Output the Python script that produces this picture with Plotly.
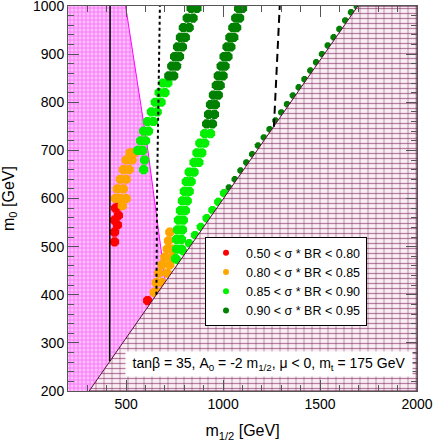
"""mSUGRA (m1/2, m0) plane with sigma*BR bands, tan(beta)=35, A0=-2 m1/2, mu<0."""

import plotly.graph_objects as go

FONT = "Liberation Sans, Arial, Helvetica, sans-serif"

# --- scan points, (m1/2, m0) in GeV, per sigma*BR class ---
red_x = [440, 440, 455, 440, 460, 445, 465, 611]
red_y = [510, 530, 545, 555, 565, 580, 585, 388]

orange_a_x = [480, 445, 470, 500, 455, 485, 470, 500, 485, 515, 500, 530, 520, 540]
orange_a_y = [585, 600, 600, 600, 620, 620, 640, 640, 660, 660, 680, 680, 695, 695]

orange_b_x = [645, 670, 655, 685, 668, 712, 685, 725, 700, 738, 712, 735, 718, 725]
orange_b_y = [405, 405, 425, 425, 445, 445, 462, 462, 478, 478, 495, 495, 512, 530]

green_a_x = [590, 595, 560, 585, 575, 600, 590, 615, 610, 640, 630, 660, 650, 680,
             670, 700, 690, 715]
green_a_y = [660, 680, 700, 700, 720, 720, 740, 740, 760, 760, 780, 780, 800, 800,
             820, 820, 840, 840]

green_b_x = [755, 760, 785, 760, 785, 765, 790, 770, 795, 780, 805, 790, 815, 800,
             825, 810, 835, 825, 850, 850, 875, 865, 890, 880, 905, 905, 935]
green_b_y = [475, 495, 495, 515, 515, 535, 535, 555, 555, 575, 575, 595, 595, 615,
             615, 635, 635, 655, 655, 675, 675, 695, 695, 715, 715, 735, 735]

green_c_x = [765, 795, 825, 855, 885, 915, 945, 975, 1005]
green_c_y = [472, 490, 507, 524, 541, 559, 576, 593, 611]

dgreen_a_x = [720, 745, 735, 760, 750, 775, 765, 790, 780, 805, 795, 825, 815, 845,
              835, 865]
dgreen_a_y = [855, 855, 875, 875, 895, 895, 915, 915, 935, 935, 955, 955, 975, 975,
              995, 995]

dgreen_b_x = [915, 945, 925, 955, 935, 960, 950, 975, 965, 985, 975, 1000, 990, 1010,
              1005, 1025, 1020, 1040, 1035, 1055, 1050, 1070, 1065, 1085, 1080, 1100]
dgreen_b_y = [755, 755, 775, 775, 795, 795, 815, 815, 835, 835, 855, 855, 875, 875,
              895, 895, 915, 915, 935, 935, 955, 955, 975, 975, 995, 995]

dgreen_c_x = [1030, 1060, 1090, 1120, 1150, 1180, 1210, 1240, 1270, 1300, 1330, 1360,
              1390, 1420, 1450, 1480, 1510, 1540, 1570, 1600, 1630, 1660, 1690]
dgreen_c_y = [623, 640, 658, 675, 692, 710, 727, 744, 762, 779, 796, 814, 831, 848,
              866, 883, 900, 918, 935, 952, 970, 987, 999]

# --- excluded regions and limit curves ---
stau_x = [309, 1695, 2000, 2000, 309]
stau_y = [200, 1000, 1000, 200, 200]

bsg_x = [200, 309, 702, 635, 612, 497, 200, 200]
bsg_y = [200, 200, 427, 638, 700, 1000, 1000, 200]

bsg_edge_x = [702, 635, 612, 497]
bsg_edge_y = [427, 638, 700, 1000]

higgs_x = [415, 417]
higgs_y = [262, 1000]

gmu_x = [656, 660, 674]
gmu_y = [400, 640, 1000]

dash_x = [1262, 1292]
dash_y = [749, 1000]

legend_labels = [
    "0.50 < σ * BR < 0.80",
    "0.80 < σ * BR < 0.85",
    "0.85 < σ * BR < 0.90",
    "0.90 < σ * BR < 0.95",
]
colors = ["#ff0000", "#ffa500", "#00f000", "#008000"]

fig = go.Figure()

# b -> s gamma excluded (magenta)
fig.add_trace(go.Scatter(
    x=bsg_x, y=bsg_y, mode="lines", fill="toself",
    fillcolor="#ffb8ff",
    fillpattern=dict(shape="+", fgcolor="#ee22ee", bgcolor="#ffc0ff",
                     size=4, solidity=0.4),
    line=dict(width=0), hoverinfo="skip", showlegend=False,
))
fig.add_trace(go.Scatter(
    x=bsg_edge_x, y=bsg_edge_y, mode="lines",
    line=dict(color="#ff00ff", width=1), hoverinfo="skip", showlegend=False,
))

# scan points
bands = [
    (red_x, red_y, colors[0], 10),
    (orange_a_x, orange_a_y, colors[1], 10),
    (orange_b_x, orange_b_y, colors[1], 10),
    (green_a_x, green_a_y, colors[2], 10),
    (green_b_x, green_b_y, colors[2], 10),
    (green_c_x, green_c_y, colors[2], 9),
    (dgreen_a_x, dgreen_a_y, colors[3], 10),
    (dgreen_b_x, dgreen_b_y, colors[3], 10),
    (dgreen_c_x, dgreen_c_y, colors[3], 7),
]
for bx, by, col, sz in bands:
    fig.add_trace(go.Scatter(
        x=bx, y=by, mode="markers",
        marker=dict(color=col, size=sz, symbol="octagon", line=dict(width=0)),
        hoverinfo="skip", showlegend=False,
    ))

# charged LSP region: brick-like hatch = horizontal rows + vertical joints
fig.add_trace(go.Scatter(
    x=stau_x, y=stau_y, mode="lines", fill="toself",
    fillcolor="#f8eef4",
    fillpattern=dict(shape="-", fgcolor="#74104a", bgcolor="#f8eef4",
                     size=5, solidity=0.25),
    line=dict(width=0), hoverinfo="skip", showlegend=False,
))
fig.add_trace(go.Scatter(
    x=stau_x, y=stau_y, mode="lines", fill="toself",
    fillcolor="rgba(0,0,0,0)",
    fillpattern=dict(shape="|", fgcolor="rgba(116,16,74,0.75)", size=8,
                     solidity=0.14, fillmode="overlay"),
    line=dict(color="#5a0a38", width=1), hoverinfo="skip", showlegend=False,
))

# limit curves
fig.add_trace(go.Scatter(
    x=higgs_x, y=higgs_y, mode="lines",
    line=dict(color="black", width=1.5), hoverinfo="skip", showlegend=False,
))
fig.add_trace(go.Scatter(
    x=gmu_x, y=gmu_y, mode="lines",
    line=dict(color="black", width=2, dash="dot"), hoverinfo="skip", showlegend=False,
))
fig.add_trace(go.Scatter(
    x=dash_x, y=dash_y, mode="lines",
    line=dict(color="black", width=2, dash="8px,5px"), hoverinfo="skip", showlegend=False,
))

# legend entries
for lab, col in zip(legend_labels, colors):
    fig.add_trace(go.Scatter(
        x=[None], y=[None], mode="markers", name=lab,
        marker=dict(color=col, size=6),
    ))

axis_common = dict(
    showline=True, linecolor="#555555", linewidth=1, mirror="allticks",
    ticks="inside", ticklen=11, tickcolor="#555555", tickwidth=1,
    showgrid=False, zeroline=False, ticklabeloverflow="allow", automargin=False,
    tickfont=dict(family=FONT, size=14, color="black"),
)

fig.update_layout(
    width=433, height=443,
    margin=dict(l=68, r=16, t=6, b=52),
    paper_bgcolor="white", plot_bgcolor="white",
    font=dict(family=FONT, color="black"),
    xaxis=dict(
        range=[200, 2000], tickvals=[500, 1000, 1500, 2000],
        minor=dict(dtick=100, tick0=0, ticklen=6, ticks="inside", tickcolor="#555555"),
        title=dict(text="m<sub>1/2</sub> [GeV]", font=dict(family=FONT, size=16),
                   standoff=14),
        **axis_common,
    ),
    yaxis=dict(
        range=[200, 1000], tickvals=[200, 300, 400, 500, 600, 700, 800, 900, 1000],
        minor=dict(dtick=20, tick0=0, ticklen=6, ticks="inside", tickcolor="#555555"),
        title=dict(text="m<sub>0</sub> [GeV]", font=dict(family=FONT, size=16),
                   standoff=15),
        **axis_common,
    ),
    legend=dict(
        x=0.3926, y=0.4, xanchor="left", yanchor="top",
        bgcolor="white", bordercolor="black", borderwidth=1,
        font=dict(family=FONT, size=12.5, color="black"),
        itemwidth=30,
    ),
    showlegend=True,
)

fig.add_annotation(
    text="tanβ = 35, A<sub>0</sub> = -2 m<sub>1/2</sub>, μ < 0, m<sub>t</sub> = 175 GeV",
    xref="paper", yref="paper", x=0.576, y=0.0714,
    xanchor="center", yanchor="middle",
    showarrow=False, bgcolor="white", width=284, height=22,
    font=dict(family=FONT, size=14, color="black"),
)

fig.write_html("out.html", config={"displayModeBar": False},
               post_script="document.body.style.margin='0';")
